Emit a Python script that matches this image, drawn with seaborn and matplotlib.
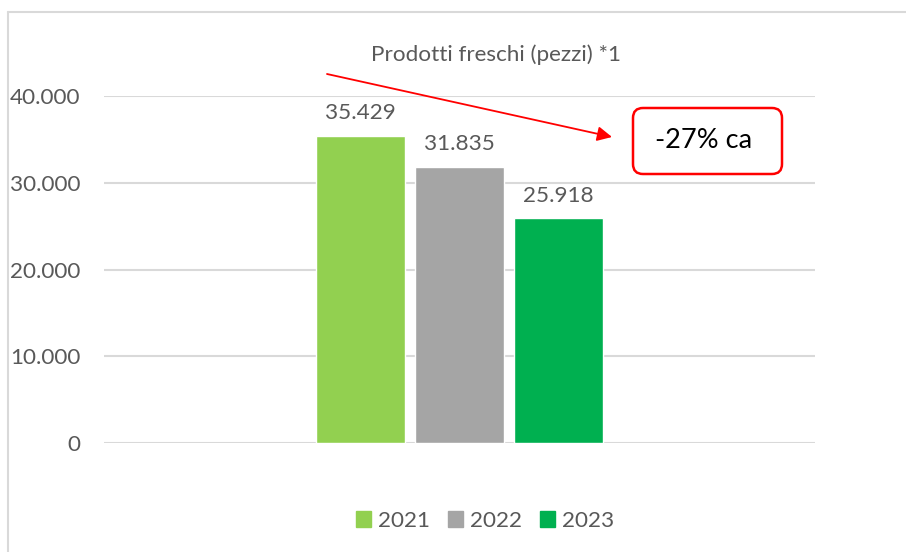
import numpy as np
import pandas as pd
import matplotlib
matplotlib.use("Agg")
import matplotlib.pyplot as plt
from matplotlib.lines import Line2D
from matplotlib.patches import FancyBboxPatch
import seaborn as sns

years = ["2021", "2022", "2023"]
values = [35429, 31835, 25918]
colors = ["#92D050", "#A5A5A5", "#00B050"]
title = "Prodotti freschi (pezzi) *1"
y_ticks = [0, 10000, 20000, 30000, 40000]
note = "-27% ca"


def fmt_it(v):
    return f"{v:,.0f}".replace(",", ".")


df = pd.DataFrame({"cat": [""] * len(years), "anno": years, "valore": values})

sns.set_style("white")
plt.rcParams["font.family"] = ["Lato", "DejaVu Sans"]
grey = "#595959"
fs = 16.2

fig = plt.figure(figsize=(9.06, 5.52), dpi=100)
ax = fig.add_axes([104 / 906, 1 - 443 / 552, 711 / 906, 347 / 552])

sns.barplot(data=df, x="cat", y="valore", hue="anno", hue_order=years,
            palette=colors, width=0.418, gap=0.1, ax=ax, saturation=1,
            legend=False)

ax.set_xlim(-0.5, 0.5)
ax.set_ylim(0, 40000)
ax.set_yticks(y_ticks)
ax.set_yticklabels([fmt_it(v) for v in y_ticks], color=grey, fontsize=fs)
ax.set_xticks([])
ax.set_xlabel("")
ax.set_ylabel("")
ax.tick_params(axis="y", length=0, pad=17)
ax.yaxis.grid(True, color="#D9D9D9", lw=1.5)
ax.set_axisbelow(True)
for s in ax.spines.values():
    s.set_visible(False)

for cont in ax.containers:
    ax.bar_label(cont, labels=[fmt_it(v) for v in cont.datavalues],
                 padding=9, color=grey, fontsize=fs)

fig.text(496 / 906, 1 - 55 / 552, title, ha="center", va="center",
         color=grey, fontsize=fs)

# legend
handles = [plt.Rectangle((0, 0), 1, 1, color=c) for c in colors]
ax.legend(handles, years, loc="center", bbox_to_anchor=(485 / 906, 1 - 521 / 552),
          bbox_transform=fig.transFigure, ncol=3, frameon=False,
          handlelength=0.68, handleheight=0.68, handletextpad=0.3,
          columnspacing=0.8, labelcolor=grey, fontsize=fs)

# red arrow and box
ax.annotate("", xy=(612 / 906, 1 - 137 / 552), xytext=(327 / 906, 1 - 74 / 552),
            xycoords="figure fraction", textcoords="figure fraction",
            arrowprops=dict(arrowstyle="-|>", color="red", lw=1.3,
                            mutation_scale=22, shrinkA=0, shrinkB=0))
r = 0.1
box = FancyBboxPatch((6.33 + r, 3.78 + r), 1.49 - 2 * r, 0.66 - 2 * r,
                     boxstyle=f"round,pad={r}", transform=fig.dpi_scale_trans,
                     fc="white", ec="red", lw=1.8)
fig.patches.append(box)
fig.text(704 / 906, 1 - 141 / 552, note, ha="center", va="center",
         color="black", fontsize=19.5)

# chart border
fig.add_artist(Line2D([8 / 906, 1], [1 - 12 / 552, 1 - 12 / 552],
                      transform=fig.transFigure, color="#D9D9D9", lw=1.5))
fig.add_artist(Line2D([8 / 906, 8 / 906], [0, 1 - 12 / 552],
                      transform=fig.transFigure, color="#D9D9D9", lw=1.5))

fig.savefig("out.png", dpi=100)
